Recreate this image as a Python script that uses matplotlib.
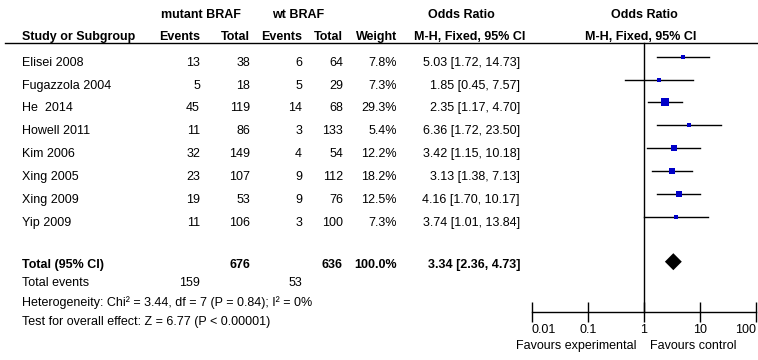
import matplotlib
matplotlib.use("Agg")
import matplotlib.pyplot as plt
import numpy as np

plt.rcParams['font.family'] = ['Liberation Sans', 'DejaVu Sans']
plt.rcParams['font.size'] = 9

studies = ["Elisei 2008", "Fugazzola 2004", "He  2014", "Howell 2011",
           "Kim 2006", "Xing 2005", "Xing 2009", "Yip 2009"]
mut_events = [13, 5, 45, 11, 32, 23, 19, 11]
mut_total = [38, 18, 119, 86, 149, 107, 53, 106]
wt_events = [6, 5, 14, 3, 4, 9, 9, 3]
wt_total = [64, 29, 68, 133, 54, 112, 76, 100]
weights = [7.8, 7.3, 29.3, 5.4, 12.2, 18.2, 12.5, 7.3]
odds = [5.03, 1.85, 2.35, 6.36, 3.42, 3.13, 4.16, 3.74]
ci_low = [1.72, 0.45, 1.17, 1.72, 1.15, 1.38, 1.70, 1.01]
ci_high = [14.73, 7.57, 4.70, 23.50, 10.18, 7.13, 10.17, 13.84]

pooled_or, pooled_lo, pooled_hi = 3.34, 2.36, 4.73
heterogeneity = "Heterogeneity: Chi\u00b2 = 3.44, df = 7 (P = 0.84); I\u00b2 = 0%"
overall = "Test for overall effect: Z = 6.77 (P < 0.00001)"
ticks = [0.01, 0.1, 1, 10, 100]
tick_labels = ["0.01", "0.1", "1", "10", "100"]

fig = plt.figure(figsize=(7.58, 3.6), dpi=100)

# table part, in pixel coordinates
ax = fig.add_axes([0, 0, 1, 1])
ax.set_xlim(0, 758)
ax.set_ylim(360, 0)
ax.axis('off')

# forest part on a log scale
fx = fig.add_axes([532 / 758, 0, 224 / 758, 1])
fx.set_xscale('log')
fx.set_xlim(0.01, 100)
fx.set_ylim(360, 0)
fx.patch.set_alpha(0)

row_y = 56.7 + 22.86 * np.arange(len(studies))
text_dy = 6
total_y = 261.7

# headers
ax.text(201, 15, "mutant BRAF", ha='center', va='center', fontweight='bold')
ax.text(298, 15, "wt BRAF", ha='center', va='center', fontweight='bold')
ax.text(461, 15, "Odds Ratio", ha='center', va='center', fontweight='bold')
ax.text(644, 15, "Odds Ratio", ha='center', va='center', fontweight='bold')
ax.text(22, 37, "Study or Subgroup", ha='left', va='center', fontweight='bold')
ax.text(200, 37, "Events", ha='right', va='center', fontweight='bold')
ax.text(250, 37, "Total", ha='right', va='center', fontweight='bold')
ax.text(302, 37, "Events", ha='right', va='center', fontweight='bold')
ax.text(343, 37, "Total", ha='right', va='center', fontweight='bold')
ax.text(397, 37, "Weight", ha='right', va='center', fontweight='bold')
ax.text(470, 37, "M-H, Fixed, 95% CI", ha='center', va='center', fontweight='bold')
ax.text(641, 37, "M-H, Fixed, 95% CI", ha='center', va='center', fontweight='bold')
ax.plot([5, 757], [43, 43], color='black', lw=1.0)

# study rows
for i, name in enumerate(studies):
    ty = row_y[i] + text_dy
    ax.text(22, ty, name, ha='left', va='center')
    ax.text(200, ty, str(mut_events[i]), ha='right', va='center')
    ax.text(250, ty, str(mut_total[i]), ha='right', va='center')
    ax.text(302, ty, str(wt_events[i]), ha='right', va='center')
    ax.text(343, ty, str(wt_total[i]), ha='right', va='center')
    ax.text(397, ty, f"{weights[i]:.1f}%", ha='right', va='center')
    ax.text(520, ty, f"{odds[i]:.2f} [{ci_low[i]:.2f}, {ci_high[i]:.2f}]",
            ha='right', va='center')
    fx.plot([ci_low[i], ci_high[i]], [row_y[i], row_y[i]], color='black', lw=1.0)
    fx.plot(odds[i], row_y[i], marker='s', color='#0000c8',
            markersize=1.06 * np.sqrt(weights[i]), markeredgewidth=0)

# pooled row
ty = total_y + 3.5
ax.text(22, ty, "Total (95% CI)", ha='left', va='center', fontweight='bold')
ax.text(250, ty, str(sum(mut_total)), ha='right', va='center', fontweight='bold')
ax.text(343, ty, str(sum(wt_total)), ha='right', va='center', fontweight='bold')
ax.text(397, ty, f"{sum(weights):.1f}%", ha='right', va='center', fontweight='bold')
ax.text(520, ty, f"{pooled_or:.2f} [{pooled_lo:.2f}, {pooled_hi:.2f}]",
        ha='right', va='center', fontweight='bold')
fx.fill([pooled_lo, pooled_or, pooled_hi, pooled_or],
        [total_y, total_y - 8.5, total_y, total_y + 8.5], color='black', lw=0)

ax.text(22, 283, "Total events", ha='left', va='center')
ax.text(200, 283, str(sum(mut_events)), ha='right', va='center')
ax.text(302, 283, str(sum(wt_events)), ha='right', va='center')
ax.text(22, 303, heterogeneity, ha='left', va='center')
ax.text(22, 322, overall, ha='left', va='center')

# line of no effect and the odds ratio axis
fx.plot([1, 1], [43, 312], color='black', lw=1.0)
for s in ['left', 'right', 'top']:
    fx.spines[s].set_visible(False)
fx.spines['bottom'].set_position(('data', 312))
fx.spines['bottom'].set_linewidth(1.0)
fx.set_yticks([])
fx.set_xticks(ticks)
fx.set_xticklabels(tick_labels)
fx.minorticks_off()
fx.tick_params(axis='x', direction='inout', length=14, width=1.0, pad=1.5,
               labelsize=9)
# keep the end labels inside the axis span
labels = fx.get_xticklabels()
labels[0].set_ha('left')
labels[-1].set_ha('right')

ax.text(637, 346, "Favours experimental", ha='right', va='center')
ax.text(650, 346, "Favours control", ha='left', va='center')

fig.savefig("out.png", dpi=100)
